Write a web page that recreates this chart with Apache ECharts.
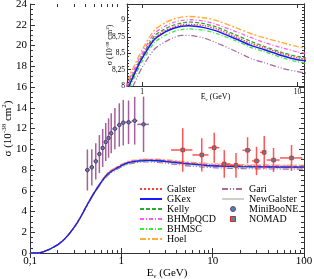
<!DOCTYPE html>
<html><head><meta charset="utf-8">
<script src="https://cdn.jsdelivr.net/npm/echarts@6/dist/echarts.min.js"></script>
<style>html,body{margin:0;padding:0;background:#fff}#c{width:314px;height:279px}</style>
</head><body><div id="c"></div>
<script>
// ---- data ----
const energies = [0.1,0.12,0.14,0.16,0.18,0.2,0.23,0.26,0.3,0.35,0.4,0.45,0.5,0.6,0.7,0.8,0.9,1.0,1.2,1.4,1.6,1.8,2.0,2.5,3,4,5,6,8,10,12,20,50,100];
const galster    = [0,0,0.12,0.32,0.55,0.78,1.2,1.7,2.4,3.31,4.26,5.07,5.76,6.82,7.58,7.96,8.22,8.44,8.73,8.84,8.9,8.93,8.94,8.92,8.87,8.75,8.65,8.59,8.49,8.43,8.40,8.35,8.32,8.31];
const gkex       = [0,0,0.12,0.32,0.55,0.78,1.2,1.7,2.4,3.3,4.25,5.06,5.74,6.8,7.55,7.93,8.2,8.42,8.71,8.82,8.88,8.91,8.92,8.89,8.84,8.72,8.62,8.56,8.46,8.40,8.38,8.33,8.29,8.27];
const kelly      = [0,0,0.12,0.32,0.55,0.78,1.21,1.71,2.41,3.32,4.27,5.09,5.77,6.84,7.6,8.0,8.24,8.46,8.76,8.87,8.93,8.96,8.975,8.95,8.9,8.78,8.68,8.61,8.51,8.45,8.42,8.37,8.33,8.32];
const bhmpqcd    = [0,0,0.12,0.32,0.56,0.79,1.21,1.72,2.42,3.33,4.29,5.11,5.8,6.87,7.63,8.03,8.28,8.5,8.8,8.91,8.97,9.0,9.01,8.99,8.94,8.83,8.74,8.67,8.58,8.52,8.49,8.44,8.4,8.38];
const bhmsc      = [0,0,0.12,0.32,0.55,0.78,1.19,1.69,2.39,3.28,4.23,5.03,5.71,6.77,7.5,7.89,8.15,8.37,8.66,8.77,8.83,8.86,8.87,8.85,8.8,8.69,8.59,8.53,8.43,8.37,8.34,8.29,8.25,8.24];
const hoel       = [0,0,0.12,0.32,0.56,0.79,1.22,1.73,2.44,3.35,4.31,5.14,5.83,6.9,7.68,8.07,8.33,8.55,8.85,8.96,9.02,9.05,9.06,9.04,9.0,8.89,8.80,8.74,8.66,8.60,8.57,8.52,8.48,8.46];
const gari       = [0,0,0.12,0.31,0.54,0.77,1.18,1.67,2.36,3.25,4.19,4.98,5.65,6.7,7.42,7.8,8.06,8.28,8.56,8.67,8.74,8.77,8.77,8.73,8.66,8.53,8.42,8.36,8.27,8.22,8.19,8.13,8.09,8.08];
const newgalster = [0,0,0.12,0.32,0.54,0.77,1.19,1.68,2.38,3.27,4.21,5.01,5.68,6.73,7.47,7.85,8.1,8.32,8.6,8.72,8.78,8.81,8.82,8.79,8.73,8.61,8.51,8.45,8.35,8.29,8.26,8.21,8.17,8.16];

const minibooneE     = [0.425,0.475,0.525,0.575,0.625,0.675,0.725,0.775,0.85,0.95,1.05,1.2,1.4,1.75];
const minibooneELow  = [0.4,0.45,0.5,0.55,0.6,0.65,0.7,0.75,0.8,0.9,1.0,1.1,1.3,1.5];
const minibooneEHigh = [0.45,0.5,0.55,0.6,0.65,0.7,0.75,0.8,0.9,1.0,1.1,1.3,1.5,2.0];
const minibooneSigma = [8.0,8.26,8.84,9.54,10.12,10.70,11.08,11.54,11.98,12.34,12.56,12.60,12.75,12.40];
const minibooneErr   = [1.98,1.75,1.75,1.83,1.83,1.83,1.9,1.93,1.99,2.09,2.2,2.1,2.3,2.67];

const nomadE     = [4.7,7.6,10.4,13.4,18,24.1,30.2,36.7,46.4,73];
const nomadELow  = [3.5,6,9,12.3,15.8,21.2,27,33,39,54.6];
const nomadEHigh = [6,9,11.8,15.6,19.8,26.3,33,38,54,96];
const nomadSigma = [9.93,9.45,10.15,8.58,8.45,9.9,8.87,9.7,8.96,9.16];
const nomadErr   = [2.1,1.6,1.45,1.33,1.2,1.25,1.37,1.57,1.16,1.25];

const mainMinorX  = [0.2,0.3,0.4,0.5,0.6,0.7,0.8,0.9,2,3,4,5,6,7,8,9,20,30,40,50,60,70,80,90];
const insetMinorX = [0.9,2,3,4,5,6,7,8,9];

// ---- chart ----
const FONT = 'Liberation Serif';
const AX = '#333';
const chart = echarts.init(document.getElementById('c'), null, {renderer:'canvas'});

const models = [
  {name:'Galster',    data:galster,    color:'#ff3b3b', type:'dotted',      w:1.2, z:5},
  {name:'GKex',       data:gkex,       color:'#1a1aff', type:'solid',       w:1.3, z:6},
  {name:'Kelly',      data:kelly,      color:'#2eaa2e', type:[4,2],         w:1.1, z:4},
  {name:'BHMpQCD',    data:bhmpqcd,    color:'#ff55ff', type:[4,2,1,2],     w:1.1, z:4},
  {name:'BHMSC',      data:bhmsc,      color:'#33ee33', type:[4,2,1,2],     w:1.1, z:4},
  {name:'Hoel',       data:hoel,       color:'#ffad33', type:[6,2,2,2],     w:1.2, z:3},
  {name:'Gari',       data:gari,       color:'#a66a9e', type:[6,2,1,2,1,2], w:1.1, z:3},
  {name:'NewGalster', data:newgalster, color:'#cfcfcf', type:'solid',       w:0.9, z:2}
];

const series = [];
models.forEach(m => {
  const pts = energies.map((e,i) => [e, m.data[i]]);
  [[0,0,1],[2,2,1.15]].forEach(([xi,yi,k]) => {
    series.push({
      type:'line', name:m.name, xAxisIndex:xi, yAxisIndex:yi, data:pts,
      symbol:'none', smooth:0.3, z:m.z, silent:true,
      lineStyle:{color:m.color, width:m.w*k, type:m.type},
      itemStyle:{color:m.color}
    });
  });
});

function errRender(barColor, marker) {
  return function(params, api) {
    const x = api.value(0), y = api.value(1), er = api.value(2), lo = api.value(3), hi = api.value(4);
    const c = api.coord([x,y]), t = api.coord([x,y+er]), b = api.coord([x,y-er]);
    const l = api.coord([lo,y]), r = api.coord([hi,y]);
    const kids = [
      {type:'line', shape:{x1:c[0],y1:t[1],x2:c[0],y2:b[1]}, style:{stroke:barColor, lineWidth:1.5, opacity:0.8}},
      {type:'line', shape:{x1:l[0],y1:c[1],x2:r[0],y2:c[1]}, style:{stroke:barColor, lineWidth:1.5, opacity:0.8}}
    ];
    if (marker === 'circle') kids.push({type:'circle', shape:{cx:c[0],cy:c[1],r:1.8}, style:{fill:'#4c86b8', stroke:'#5b1f52', lineWidth:0.8}});
    else kids.push({type:'rect', shape:{x:c[0]-1.8,y:c[1]-1.8,width:3.6,height:3.6}, style:{fill:'#3f8f9f', stroke:'#e82020', lineWidth:0.8}});
    return {type:'group', children:kids};
  };
}

series.push({
  type:'custom', name:'MiniBooNE', xAxisIndex:0, yAxisIndex:0, z:8, silent:true,
  data: minibooneE.map((e,i) => [e, minibooneSigma[i], minibooneErr[i], minibooneELow[i], minibooneEHigh[i]]),
  encode:{x:0, y:1}, itemStyle:{color:'#4c86b8'},
  renderItem: errRender('#8e3a80','circle')
});
series.push({
  type:'custom', name:'NOMAD', xAxisIndex:0, yAxisIndex:0, z:8, silent:true,
  data: nomadE.map((e,i) => [e, nomadSigma[i], nomadErr[i], nomadELow[i], nomadEHigh[i]]),
  encode:{x:0, y:1}, itemStyle:{color:'#e82020'},
  renderItem: errRender('#ff2a2a','rect')
});

function tickRender(params, api) {
  const cs = params.coordSys;
  const px = Math.round(api.coord([api.value(0), api.value(1)])[0]) + 0.5;
  const yb = cs.y + cs.height, yt = cs.y;
  return {type:'group', children:[
    {type:'line', shape:{x1:px,y1:yb,x2:px,y2:yb-3}, style:{stroke:AX,lineWidth:1}},
    {type:'line', shape:{x1:px,y1:yt,x2:px,y2:yt+3}, style:{stroke:AX,lineWidth:1}}
  ]};
}
series.push({type:'custom', name:'_tm', xAxisIndex:0, yAxisIndex:0, silent:true, z:1,
  data: mainMinorX.map(v => [v, 1]), encode:{x:0,y:1}, renderItem: tickRender});
series.push({type:'custom', name:'_ti', xAxisIndex:2, yAxisIndex:2, silent:true, z:1,
  data: insetMinorX.map(v => [v, 8.5]), encode:{x:0,y:1}, renderItem: tickRender});

const fmt = v => String(Number(v.toPrecision(6))).replace('.', ',');
const isDecade = v => { const l = Math.log10(v); return Math.abs(l - Math.round(l)) < 1e-6; };

const axLine = {show:true, lineStyle:{color:AX, width:1}};
const tickIn = (len) => ({show:true, inside:true, length:len, lineStyle:{color:AX}});
const lbl = (size, extra) => Object.assign({fontFamily:FONT, fontSize:size, color:'#000'}, extra||{});
const lineItem = n => ({name:n, itemStyle:{opacity:0}});

const option = {
  animation:false,
  backgroundColor:'#fff',
  grid:[
    {left:30, top:4, right:10, bottom:26, outerBoundsMode:'none', containLabel:false},
    {left:127, top:4, right:10, height:82, show:true, backgroundColor:'#fff', borderWidth:0, outerBoundsMode:'none', containLabel:false, z:3}
  ],
  xAxis:[
    {gridIndex:0, type:'log', logBase:10, min:0.1, max:100, position:'bottom',
     axisLine:axLine, axisTick:tickIn(5), splitLine:{show:false},
     axisLabel:lbl(11, {margin:3, formatter:v => isDecade(v) ? fmt(v) : ''}),
     name:'E{sub|ν} (GeV)', nameLocation:'middle', nameGap:13, nameMoveOverlap:false,
     nameTextStyle:{fontFamily:FONT, fontSize:11, color:'#000', lineHeight:14,
       rich:{sub:{fontFamily:FONT, fontSize:7, verticalAlign:'bottom', lineHeight:14}}}},
    {gridIndex:0, type:'log', logBase:10, min:0.1, max:100, position:'top',
     axisLine:axLine, axisTick:tickIn(5), axisLabel:{show:false}, splitLine:{show:false}},
    {gridIndex:1, type:'log', logBase:10, min:0.8, max:11, position:'bottom', z:4,
     axisLine:axLine, axisTick:tickIn(4), splitLine:{show:false},
     axisLabel:lbl(7.5, {margin:2, formatter:v => isDecade(v) ? fmt(v) : ''}),
     name:'E{sub|ν} (GeV)', nameLocation:'middle', nameGap:6, nameMoveOverlap:false,
     nameTextStyle:{fontFamily:FONT, fontSize:8, color:'#000', lineHeight:10,
       rich:{sub:{fontFamily:FONT, fontSize:5, verticalAlign:'bottom', lineHeight:10}}}},
    {gridIndex:1, type:'log', logBase:10, min:0.8, max:11, position:'top', z:4,
     axisLine:axLine, axisTick:tickIn(4), axisLabel:{show:false}, splitLine:{show:false}}
  ],
  yAxis:[
    {gridIndex:0, type:'value', min:0, max:24, interval:2, position:'left',
     axisLine:axLine, axisTick:tickIn(5), minorTick:{show:true, splitNumber:4, length:3, lineStyle:{color:AX}},
     splitLine:{show:false}, minorSplitLine:{show:false},
     axisLabel:lbl(11, {margin:3}),
     name:'σ (10{sup|-38} cm{sup|2})', nameLocation:'middle', nameGap:15, nameMoveOverlap:false,
     nameTextStyle:{fontFamily:FONT, fontSize:11, color:'#000', lineHeight:14,
       rich:{sup:{fontFamily:FONT, fontSize:7, verticalAlign:'top', lineHeight:14}}}},
    {gridIndex:0, type:'value', min:0, max:24, interval:2, position:'right',
     axisLine:axLine, axisTick:tickIn(5), minorTick:{show:true, splitNumber:4, length:3, lineStyle:{color:AX}},
     splitLine:{show:false}, axisLabel:{show:false}},
    {gridIndex:1, type:'value', min:8, max:9.25, interval:0.25, position:'left', z:4,
     axisLine:axLine, axisTick:tickIn(4), minorTick:{show:true, splitNumber:5, length:2, lineStyle:{color:AX}},
     splitLine:{show:false},
     axisLabel:lbl(7.5, {margin:2, showMaxLabel:false, formatter:v => fmt(v)}),
     name:'σ (10{sup|-38} cm{sup|2})', nameLocation:'middle', nameGap:12, nameMoveOverlap:false,
     nameTextStyle:{fontFamily:FONT, fontSize:8, color:'#000', lineHeight:10,
       rich:{sup:{fontFamily:FONT, fontSize:5, verticalAlign:'top', lineHeight:10}}}},
    {gridIndex:1, type:'value', min:8, max:9.25, interval:0.25, position:'right', z:4,
     axisLine:axLine, axisTick:tickIn(4), minorTick:{show:true, splitNumber:5, length:2, lineStyle:{color:AX}},
     splitLine:{show:false}, axisLabel:{show:false}}
  ],
  legend:[
    {left:139, top:184, orient:'vertical', padding:0, itemWidth:22, itemHeight:5, itemGap:0, itemTextGap:3,
     selectedMode:false, textStyle:{fontFamily:FONT, fontSize:10, color:'#000', lineHeight:10},
     data:['Galster','GKex','Kelly','BHMpQCD','BHMSC','Hoel'].map(lineItem)},
    {left:221, top:184, orient:'vertical', padding:0, itemWidth:22, itemHeight:5, itemGap:0, itemTextGap:3,
     selectedMode:false, textStyle:{fontFamily:FONT, fontSize:10, color:'#000', lineHeight:10},
     data:[lineItem('Gari'), lineItem('NewGalster'),
       {name:'MiniBooNE', icon:'circle', itemStyle:{color:'#4c86b8', borderColor:'#5b1f52', borderWidth:0.8}},
       {name:'NOMAD', icon:'path://M0,0L10,0L10,10L0,10Z', symbolKeepAspect:true, itemStyle:{color:'#3f8f9f', borderColor:'#e82020', borderWidth:1}}]}
  ],
  series: series
};
chart.setOption(option);
</script>
</body></html>
